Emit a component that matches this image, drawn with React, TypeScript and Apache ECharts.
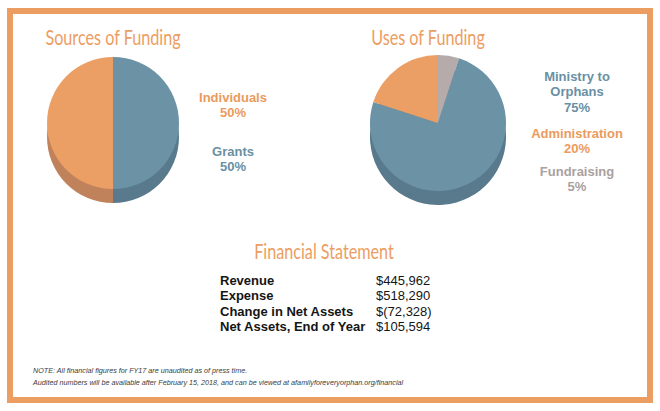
import React, { useEffect, useRef } from "react";
import * as echarts from "echarts";

const sourcesCategories = ["Grants", "Individuals"];
const sourcesValues = [50, 50];
const usesCategories = ["Fundraising", "Ministry to Orphans", "Administration"];
const usesValues = [5, 75, 20];
const sourcesLegendOrder = ["Individuals", "Grants"];
const usesLegendOrder = ["Ministry to Orphans", "Administration", "Fundraising"];
const legendLines: Record<string, string[]> = {
  "Ministry to Orphans": ["Ministry to", "Orphans"],
};
const finLabels = ["Revenue", "Expense", "Change in Net Assets", "Net Assets, End of Year"];
const finValues = ["$445,962", "$518,290", "$(72,328)", "$105,594"];
const noteLines = [
  "NOTE: All financial figures for FY17 are unaudited as of press time.",
  "Audited numbers will be available after February 15, 2018, and can be viewed at afamilyforeveryorphan.org/financial",
];

const topColors: Record<string, string> = {
  Grants: "#6b92a5",
  Individuals: "#eb9f65",
  "Ministry to Orphans": "#6b92a5",
  Administration: "#eb9f65",
  Fundraising: "#b4abaa",
};
const sideColors: Record<string, string> = {
  Grants: "#587a8c",
  Individuals: "#c0825a",
  "Ministry to Orphans": "#587a8c",
  Administration: "#c0825a",
  Fundraising: "#948b8a",
};
const labelColors: Record<string, string> = {
  Grants: "#6a90a4",
  Individuals: "#eb9a5e",
  "Ministry to Orphans": "#6a90a4",
  Administration: "#eb9a5e",
  Fundraising: "#aaa1a0",
};

const ORANGE = "#ec9d62";

function pieSeries(cats: string[], vals: number[], cx: number, cy: number, r: number, colors: Record<string, string>, z: number) {
  return {
    type: "pie",
    center: [cx, cy],
    radius: [0, r],
    startAngle: 90,
    clockwise: true,
    silent: true,
    z,
    label: { show: false },
    labelLine: { show: false },
    itemStyle: { borderWidth: 0 },
    data: cats.map((c, i) => ({ name: c, value: vals[i], itemStyle: { color: colors[c] } })),
  };
}

function legendTexts(order: string[], cats: string[], vals: number[], cx: number, groupY: number[]) {
  const els: any[] = [];
  const total = vals.reduce((a, b) => a + b, 0);
  order.forEach((name, gi) => {
    const v = vals[cats.indexOf(name)];
    const lines = [...(legendLines[name] || [name]), `${Math.round((v / total) * 100)}%`];
    lines.forEach((ln, li) => {
      els.push({
        type: "text",
        x: cx,
        y: groupY[gi] + li * 15.5,
        style: {
          text: ln,
          fill: labelColors[name],
          font: "bold 13px 'Liberation Sans', Arial, sans-serif",
          textAlign: "center",
          textVerticalAlign: "middle",
        },
      });
    });
  });
  return els;
}

export default function App() {
  const ref = useRef<HTMLDivElement>(null);
  useEffect(() => {
    if (!ref.current) return;
    const chart = echarts.init(ref.current, null, { renderer: "svg" });
    const titleFont = "21px 'Lato', 'Noto Sans', sans-serif";
    const title = (text: string, x: number, y: number) => ({
      type: "text", x, y, scaleX: 0.77,
      style: { text, fill: ORANGE, font: titleFont, textAlign: "center", textVerticalAlign: "middle" },
    });
    const graphic: any[] = [
      {
        type: "rect",
        shape: { x: 10, y: 11, width: 640, height: 389 },
        style: { fill: "none", stroke: ORANGE, lineWidth: 6 },
        z: 0,
      },
      title("Sources of Funding", 113, 37),
      title("Uses of Funding", 428, 37),
      title("Financial Statement", 324, 251),
      ...legendTexts(sourcesLegendOrder, sourcesCategories, sourcesValues, 233, [97, 151]),
      ...legendTexts(usesLegendOrder, usesCategories, usesValues, 577, [76, 133, 171]),
    ];
    finLabels.forEach((l, i) => {
      graphic.push({
        type: "text", x: 220, y: 280 + i * 15.6,
        style: { text: l, fill: "#151515", font: "bold 13px 'Liberation Sans', Arial, sans-serif", textVerticalAlign: "middle" },
      });
      graphic.push({
        type: "text", x: 376, y: 280 + i * 15.6,
        style: { text: finValues[i], fill: "#151515", font: "13px 'Liberation Sans', Arial, sans-serif", textVerticalAlign: "middle" },
      });
    });
    noteLines.forEach((t, i) => {
      graphic.push({
        type: "text", x: 33, y: 370.5 + i * 11.5, scaleX: 0.9,
        style: { text: t, fill: "#3a3a3a", font: "italic 8px 'Liberation Sans', Arial, sans-serif", textVerticalAlign: "middle" },
      });
    });

    chart.setOption({
      animation: false,
      backgroundColor: "#ffffff",
      graphic,
      series: [
        pieSeries(sourcesCategories, sourcesValues, 113, 137, 66, sideColors, 1),
        pieSeries(sourcesCategories, sourcesValues, 113, 123, 66, topColors, 2),
        pieSeries(usesCategories, usesValues, 438, 137, 68, sideColors, 1),
        pieSeries(usesCategories, usesValues, 438, 123, 68, topColors, 2),
      ],
    });
    return () => chart.dispose();
  }, []);
  return <div ref={ref} style={{ width: 660, height: 411, position: "absolute", left: 0, top: 0 }} />;
}
